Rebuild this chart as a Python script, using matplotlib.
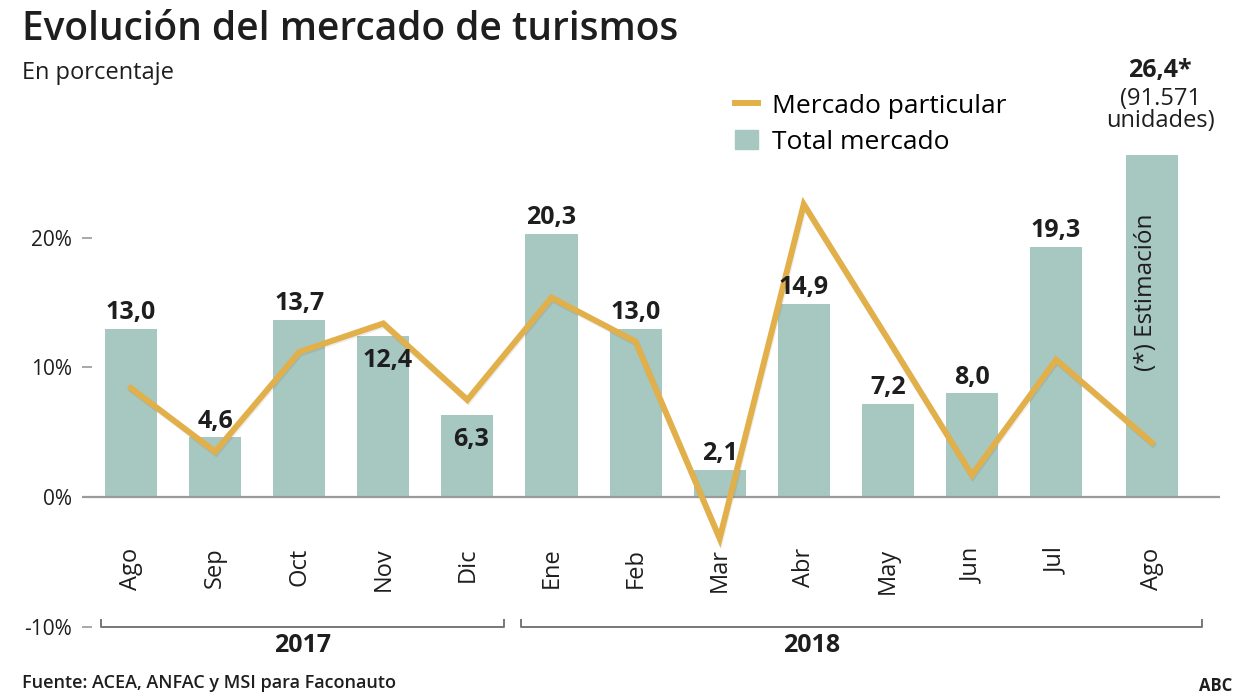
import numpy as np
import matplotlib.pyplot as plt
import matplotlib.patheffects as pe
from matplotlib.lines import Line2D
from matplotlib.patches import Patch

plt.rcParams["font.family"] = ["Open Sans", "DejaVu Sans"]

months = ["Ago", "Sep", "Oct", "Nov", "Dic", "Ene", "Feb", "Mar", "Abr", "May", "Jun", "Jul", "Ago"]
total_mercado = [13.0, 4.6, 13.7, 12.4, 6.3, 20.3, 13.0, 2.1, 14.9, 7.2, 8.0, 19.3, 26.4]
mercado_particular = [8.4, 3.5, 11.2, 13.4, 7.5, 15.4, 12.0, -3.2, 22.6, 12.2, 1.7, 10.6, 4.2]
value_labels = ["13,0", "4,6", "13,7", "12,4", "6,3", "20,3", "13,0", "2,1", "14,9", "7,2", "8,0", "19,3", ""]
label_inside = [False, False, False, True, True, False, False, False, False, False, False, False, False]
years = ["2017", "2018"]
months_per_year = [5, 8]
y_ticks = [-10, 0, 10, 20]

BAR = "#a7c7c1"
LINE = "#e2b04a"
TEXT = "#1e1e1e"
GREY = "#9a9a9a"

W, H = 1248, 698
fig = plt.figure(figsize=(W / 100, H / 100), dpi=100)

# axes placed so that 0% and 20% fall where the reference has them
ax = fig.add_axes([82 / W, 0.0653, (1220 - 82) / W, 0.7793])
ax.set_xlim(-0.583, 12.95)
ax.set_ylim(-12, 30)

x = np.arange(len(months), dtype=float)
x[-1] += 0.14  # the estimated month sits a bit further right

ax.bar(x, total_mercado, width=0.62, color=BAR, zorder=2)
ax.axhline(0, color=GREY, lw=1.6, zorder=3)
ax.plot(
    x, mercado_particular, color=LINE, lw=4.3, zorder=4, solid_joinstyle="miter",
    path_effects=[pe.SimpleLineShadow(offset=(0.6, -1.2), alpha=0.07), pe.Normal()],
)

for xi, val, lab, inside in zip(x, total_mercado, value_labels, label_inside):
    if not lab:
        continue
    off = -22 if inside else 7
    ax.annotate(lab, (xi, val), xytext=(3 if inside else 0, off), textcoords="offset points",
                ha="center", va="baseline", fontsize=18, fontweight="bold", color=TEXT, zorder=5)

# estimated last value
ax.annotate("26,4*", (x[-1], total_mercado[-1]), xytext=(6, 56), textcoords="offset points",
            ha="center", va="baseline", fontsize=18, fontweight="bold", color=TEXT)
ax.annotate("(91.571\nunidades)", (x[-1], total_mercado[-1]), xytext=(6, 20), textcoords="offset points",
            ha="center", va="baseline", fontsize=17, color=TEXT, linespacing=0.9)
ax.text(x[-1] - 0.07, total_mercado[-1] * 0.6, "(*) Estimación", rotation=90, ha="center", va="center",
        fontsize=17.5, color=TEXT)

for xi, m in zip(x, months):
    ax.text(xi, -3.9, m, rotation=90, ha="center", va="top", fontsize=17, color=TEXT)

# year brackets
start = 0
for yr, n in zip(years, months_per_year):
    x0 = x[start] - 0.36
    x1 = x[start + n - 1] + (0.44 if start == 0 else 0.6)
    ax.plot([x0, x0, x1, x1], [-9.5, -10, -10, -9.5], color="#777777", lw=1.4, clip_on=False)
    ax.text((x0 + x1) / 2 - (0.6 if start else 0), -11.5, yr, ha="center", va="center",
            fontsize=18, fontweight="bold", color=TEXT)
    start += n

ax.set_yticks(y_ticks)
ax.set_yticklabels([f"{t}%" for t in y_ticks])
ax.tick_params(axis="y", direction="in", length=7, width=1.2, color=GREY, pad=7,
               labelsize=15, labelcolor=TEXT)
ax.set_xticks([])
for s in ax.spines.values():
    s.set_visible(False)

handles = [Line2D([0], [0], color=LINE, lw=4.3), Patch(color=BAR)]
fig.legend(handles, ["Mercado particular", "Total mercado"], loc="upper left",
           bbox_to_anchor=(724 / W, 1 - 83 / H), frameon=False, fontsize=19,
           handlelength=0.9, handletextpad=0.5, labelspacing=0.42, borderaxespad=0)

fig.text(22 / W, 1 - 30 / H, "Evolución del mercado de turismos", fontsize=28, fontweight="semibold",
         color=TEXT, va="center")
fig.text(22 / W, 1 - 73 / H, "En porcentaje", fontsize=17, color=TEXT, va="center")
fig.text(22 / W, 1 - 683 / H, "Fuente: ACEA, ANFAC y MSI para Faconauto", fontsize=13,
         fontweight="semibold", color=TEXT, va="center")
fig.text(1232 / W, 1 - 686 / H, "ABC", fontsize=12, fontweight="bold", color=TEXT, va="center", ha="right")

fig.savefig("out.png", dpi=100)
